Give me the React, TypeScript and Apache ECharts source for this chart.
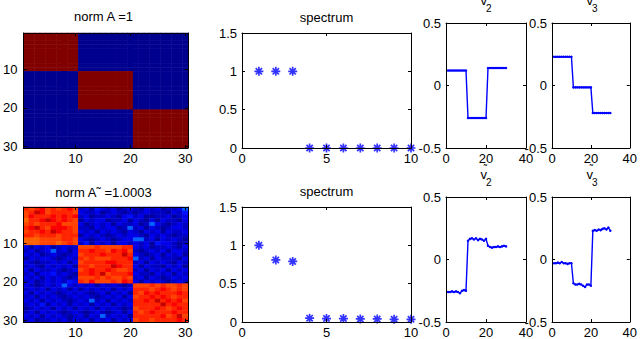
import React, { useEffect, useRef } from "react";
import * as echarts from "echarts";

// ---------- data ----------
// exact block matrix A (1 = in block, 0 = outside)
const matrixTopRows = [
  "111111111100000000000000000000",
  "111111111100000000000000000000",
  "111111111100000000000000000000",
  "111111111100000000000000000000",
  "111111111100000000000000000000",
  "111111111100000000000000000000",
  "111111111100000000000000000000",
  "111111111100000000000000000000",
  "111111111100000000000000000000",
  "111111111100000000000000000000",
  "000000000011111111110000000000",
  "000000000011111111110000000000",
  "000000000011111111110000000000",
  "000000000011111111110000000000",
  "000000000011111111110000000000",
  "000000000011111111110000000000",
  "000000000011111111110000000000",
  "000000000011111111110000000000",
  "000000000011111111110000000000",
  "000000000011111111110000000000",
  "000000000000000000001111111111",
  "000000000000000000001111111111",
  "000000000000000000001111111111",
  "000000000000000000001111111111",
  "000000000000000000001111111111",
  "000000000000000000001111111111",
  "000000000000000000001111111111",
  "000000000000000000001111111111",
  "000000000000000000001111111111",
  "000000000000000000001111111111",
];
const matrixTopLevels = [0, 1];

// noisy matrix A~ read as colour levels 0..9
const matrixBottomRows = [
  "767867678612032120121021201124",
  "679867777621120121010121110213",
  "687778787812011210231200112012",
  "577898787602122011202102021102",
  "676777866620121202112014210121",
  "789768887611021220141202101221",
  "677879877621202121021021202112",
  "776777677702121012122102121011",
  "555666677621012101224412021210",
  "555666567613021202212120322101",
  "202120121166676666772120112102",
  "120124120277877687861012120221",
  "212012101267778777972101202120",
  "021221012176766677784120211102",
  "210112120267777887771202121021",
  "121021212077677798772021102120",
  "202112101267877876671202120212",
  "120223121077879677782110212021",
  "212021210166676766761202101212",
  "120121213276866676872021210121",
  "210121242121202121016667676676",
  "121202120202121202127776787676",
  "202121012121012021207687877787",
  "120212101212101212026778787677",
  "212021210121412021217787978786",
  "121302120212021202127777797877",
  "012120212021202121016777876787",
  "120212101210121012027678777877",
  "212021210120214121207777786796",
  "120112120212021202126776777787",
];
const matrixBottomLevels = [0.02, 0.06, 0.1, 0.14, 0.22, 0.78, 0.81, 0.84, 0.88, 0.93];

const spectrumIndex = [1, 2, 3, 4, 5, 6, 7, 8, 9, 10];
const spectrumTop = [1, 1, 1, 0, 0, 0, 0, 0, 0, 0];
const spectrumBottom = [1, 0.81, 0.79, 0.05, 0.045, 0.045, 0.04, 0.04, 0.035, 0.035];

const vIndex = [
  1, 2, 3, 4, 5, 6, 7, 8, 9, 10, 11, 12, 13, 14, 15, 16, 17, 18, 19, 20, 21, 22, 23, 24, 25, 26,
  27, 28, 29, 30,
];
const v2Top = [
  0.12, 0.12, 0.12, 0.12, 0.12, 0.12, 0.12, 0.12, 0.12, 0.12, -0.26, -0.26, -0.26, -0.26, -0.26,
  -0.26, -0.26, -0.26, -0.26, -0.26, 0.14, 0.14, 0.14, 0.14, 0.14, 0.14, 0.14, 0.14, 0.14, 0.14,
];
const v3Top = [
  0.23, 0.23, 0.23, 0.23, 0.23, 0.23, 0.23, 0.23, 0.23, 0.23, -0.015, -0.015, -0.015, -0.015,
  -0.015, -0.015, -0.015, -0.015, -0.015, -0.015, -0.22, -0.22, -0.22, -0.22, -0.22, -0.22, -0.22,
  -0.22, -0.22, -0.22,
];
const v2Bottom = [
  -0.26, -0.26, -0.255, -0.26, -0.255, -0.26, -0.27, -0.25, -0.245, -0.25, 0.15, 0.165, 0.17, 0.16,
  0.17, 0.155, 0.165, 0.16, 0.15, 0.165, 0.11, 0.1, 0.095, 0.1, 0.1, 0.105, 0.1, 0.105, 0.11, 0.105,
];
const v3Bottom = [
  -0.03, -0.03, -0.025, -0.03, -0.02, -0.03, -0.03, -0.035, -0.03, -0.03, -0.19, -0.2, -0.2, -0.195,
  -0.2, -0.21, -0.22, -0.2, -0.2, -0.21, 0.23, 0.235, 0.23, 0.24, 0.235, 0.245, 0.25, 0.24, 0.255,
  0.23,
];

const heatCategories = vIndex.map((v) => String(v));
const heatTickLabels = ["10", "20", "30"];

// ---------- styling helpers ----------
const FONT = "'Liberation Sans', Arial, Helvetica, sans-serif";
const FS = 13;
const BLUE = "#0000ff";
const JET = [
  "#00008f",
  "#0000ff",
  "#0080ff",
  "#00ffff",
  "#80ff80",
  "#ffff00",
  "#ff8000",
  "#ff0000",
  "#800000",
];
const ASTERISK = "path://M5 0L5 10M0 5L10 5M1.5 1.5L8.5 8.5M1.5 8.5L8.5 1.5";

const gridBoxes = [
  { left: 19, top: 33, width: 169, height: 115 },
  { left: 242, top: 33, width: 169, height: 115 },
  { left: 446, top: 23, width: 80, height: 125 },
  { left: 552, top: 23, width: 80, height: 125 },
  { left: 19, top: 207, width: 169, height: 115 },
  { left: 242, top: 207, width: 169, height: 115 },
  { left: 446, top: 197, width: 80, height: 125 },
  { left: 552, top: 197, width: 80, height: 125 },
];

const lineStyle = { color: "#000", width: 1 };

function valueAxisPair(g: number, dim: "x" | "y", min: number, max: number, interval: number) {
  const base: any = {
    type: "value",
    gridIndex: g,
    min,
    max,
    interval,
    z: 5,
    splitLine: { show: false },
    axisLine: { show: true, onZero: false, lineStyle },
    axisTick: { show: true, inside: true, length: 3, lineStyle },
  };
  const main = {
    ...base,
    position: dim === "x" ? "bottom" : "left",
    axisLabel: { show: true, color: "#000", fontSize: FS, fontFamily: FONT, margin: dim === "x" ? 4 : 5 },
  };
  const mirror = {
    ...base,
    position: dim === "x" ? "top" : "right",
    axisLabel: { show: false },
  };
  return [main, mirror];
}

function catAxisPair(g: number, dim: "x" | "y") {
  const every10 = (i: number) => heatTickLabels.includes(heatCategories[i]);
  const base: any = {
    type: "category",
    gridIndex: g,
    data: heatCategories,
    inverse: dim === "y",
    z: 5,
    boundaryGap: true,
    splitLine: { show: false },
    axisLine: { show: true, onZero: false, lineStyle },
    axisTick: { show: true, inside: true, length: 3, alignWithLabel: true, interval: every10, lineStyle },
  };
  const main = {
    ...base,
    position: dim === "x" ? "bottom" : "left",
    axisLabel: {
      show: true,
      interval: every10,
      color: "#000",
      fontSize: FS,
      fontFamily: FONT,
      margin: dim === "x" ? 4 : 6,
    },
  };
  const mirror = { ...base, position: dim === "x" ? "top" : "right", axisLabel: { show: false } };
  return [main, mirror];
}

function heatData(rows: string[], levels: number[]) {
  const out: number[][] = [];
  rows.forEach((row, r) => {
    for (let c = 0; c < row.length; c++) out.push([c, r, levels[Number(row[c])]]);
  });
  return out;
}

function pairs(xs: number[], ys: number[]) {
  return xs.map((x, i) => [x, ys[i]]);
}

function text(x: number, y: number, t: string, size: number, align = "center") {
  return {
    type: "text",
    x,
    y,
    z: 10,
    style: {
      text: t,
      fill: "#000",
      font: `${size}px ${FONT}`,
      textAlign: align,
      textVerticalAlign: "middle",
    },
  };
}

function vTitle(cx: number, axisTop: number, sub: string, tilde: boolean) {
  const els: any[] = [
    text(cx + 1, axisTop - 22.5, "v", FS, "right"),
    text(cx, axisTop - 15, sub, 10, "left"),
  ];
  if (tilde) els.push(text(cx - 0.5, axisTop - 29, "\u02dc", 10));
  return els;
}

export default function App() {
  const ref = useRef<HTMLDivElement>(null);
  useEffect(() => {
    if (!ref.current) return;
    const chart = echarts.init(ref.current, undefined, { renderer: "svg" });

    const xAxis: any[] = [];
    const yAxis: any[] = [];
    gridBoxes.forEach((_, g) => {
      const kind = g % 4;
      if (kind === 0) {
        xAxis.push(...catAxisPair(g, "x"));
        yAxis.push(...catAxisPair(g, "y"));
      } else if (kind === 1) {
        xAxis.push(...valueAxisPair(g, "x", 0, 10, 5));
        yAxis.push(...valueAxisPair(g, "y", 0, 1.5, 0.5));
      } else {
        xAxis.push(...valueAxisPair(g, "x", 0, 40, 20));
        yAxis.push(...valueAxisPair(g, "y", -0.5, 0.5, 0.5));
      }
    });

    const heat = (g: number, rows: string[], levels: number[]) => ({
      type: "heatmap",
      xAxisIndex: 2 * g,
      yAxisIndex: 2 * g,
      data: heatData(rows, levels),
      progressive: 0,
      emphasis: { disabled: true },
    });
    const spec = (g: number, ys: number[]) => ({
      type: "scatter",
      xAxisIndex: 2 * g,
      yAxisIndex: 2 * g,
      data: pairs(spectrumIndex, ys),
      symbol: ASTERISK,
      symbolSize: 9,
      clip: false,
      itemStyle: { color: "none", borderColor: BLUE, borderWidth: 1.7 },
      z: 3,
    });
    const vline = (g: number, ys: number[]) => ({
      type: "line",
      xAxisIndex: 2 * g,
      yAxisIndex: 2 * g,
      data: pairs(vIndex, ys),
      symbol: "circle",
      symbolSize: 2.5,
      showSymbol: true,
      lineStyle: { color: BLUE, width: 1.4 },
      itemStyle: { color: BLUE },
      z: 3,
    });

    chart.setOption({
      animation: false,
      backgroundColor: "#fff",
      grid: gridBoxes.map((b) => ({ ...b, containLabel: false, show: false })),
      xAxis,
      yAxis,
      visualMap: {
        type: "continuous",
        show: false,
        min: 0,
        max: 1,
        dimension: 2,
        seriesIndex: [0, 4],
        inRange: { color: JET },
      },
      series: [
        heat(0, matrixTopRows, matrixTopLevels),
        spec(1, spectrumTop),
        vline(2, v2Top),
        vline(3, v3Top),
        heat(4, matrixBottomRows, matrixBottomLevels),
        spec(5, spectrumBottom),
        vline(6, v2Bottom),
        vline(7, v3Bottom),
      ],
      graphic: [
        text(103.5, 16.5, "norm A =1", FS),
        text(326.5, 17, "spectrum", FS),
        text(103.5, 192, "norm A\u02dc =1.0003", FS),
        text(326.5, 191, "spectrum", FS),
        ...vTitle(486, 23, "2", false),
        ...vTitle(592, 23, "3", false),
        ...vTitle(486, 197, "2", true),
        ...vTitle(592, 197, "3", true),
      ],
    });
    return () => chart.dispose();
  }, []);
  return (
    <div
      ref={ref}
      style={{ position: "absolute", left: 0, top: 0, width: 640, height: 339, background: "#fff" }}
    />
  );
}
